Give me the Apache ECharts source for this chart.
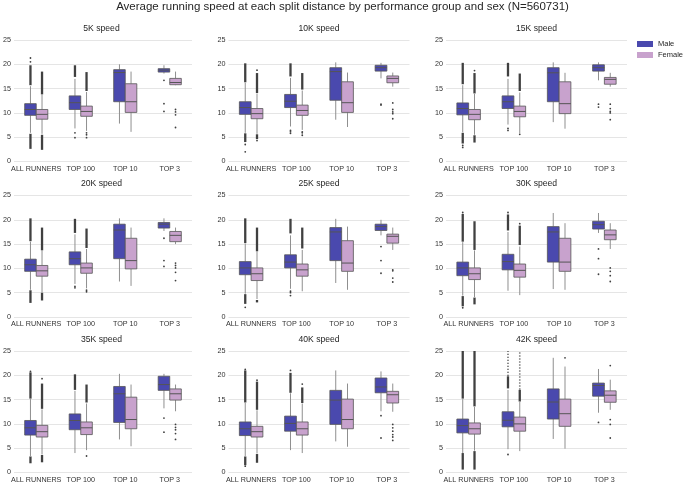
<!DOCTYPE html>
<html><head><meta charset="utf-8">
<script src="https://cdn.jsdelivr.net/npm/echarts@6/dist/echarts.min.js"></script>
<style>html,body{margin:0;padding:0;background:#fff}#c{width:685px;height:484px}</style>
</head><body><div id="c"></div><script>
const mainTitle = 'Average running speed at each split distance by performance group and sex (N=560731)';
const categories = ['ALL RUNNERS', 'TOP 100', 'TOP 10', 'TOP 3'];
const panelTitles = ['5K speed', '10K speed', '15K speed', '20K speed', '25K speed', '30K speed', '35K speed', '40K speed', '42K speed'];
const seriesNames = ['Male', 'Female'];
const yMin = 0, yMax = 25, yStep = 5;

// [lower whisker, Q1, median, Q3, upper whisker] for each category, one block per panel
const maleBoxes = [
  [[5.9,9.5,10.7,11.9,15.5],[6.8,10.7,12.1,13.5,17.0],[7.8,12.3,18.3,18.9,20.0],[18.1,18.4,18.8,19.1,19.8]],
  [[5.9,9.7,11.1,12.3,16.2],[7.2,11.1,12.4,13.8,17.2],[8.6,12.6,18.5,19.3,20.4],[17.1,18.6,19.3,19.8,20.3]],
  [[6.0,9.6,10.9,12.05,15.7],[7.6,10.9,12.3,13.5,17.0],[8.1,12.3,18.25,19.3,20.4],[16.7,18.6,19.3,19.9,20.4]],
  [[5.6,9.4,10.75,11.9,15.5],[6.8,10.75,12.0,13.4,17.0],[7.3,12.0,17.9,19.1,20.3],[17.7,18.3,19.1,19.45,20.3]],
  [[4.8,8.7,10.1,11.4,15.1],[5.8,10.1,11.3,12.8,16.8],[7.0,11.6,17.5,18.4,20.2],[16.8,17.8,18.6,19.1,20.0]],
  [[4.4,8.5,10.1,11.3,15.4],[5.4,9.7,11.4,12.9,17.5],[5.75,11.3,17.5,18.6,21.4],[17.3,18.1,19.0,19.7,21.4]],
  [[3.4,7.7,9.2,10.7,15.1],[4.0,8.8,10.7,12.05,16.8],[6.8,10.3,16.2,17.7,20.3],[13.2,16.9,18.1,19.8,20.3]],
  [[3.4,7.6,9.0,10.4,14.3],[4.6,8.5,10.1,11.6,16.3],[6.4,9.9,14.9,16.9,21.0],[12.6,16.4,17.6,19.45,20.8]],
  [[4.0,8.15,9.65,11.0,15.1],[4.8,9.4,10.75,12.5,17.0],[6.9,11.0,14.5,17.2,23.6],[12.3,15.7,17.9,18.4,21.3]]
];
const femaleBoxes = [
  [[5.7,8.7,9.7,10.7,13.7],[6.3,9.3,10.3,11.4,14.3],[6.1,10.1,12.3,16.0,18.5],[15.7,15.8,16.25,17.1,18.5]],
  [[5.7,8.8,9.85,10.9,14.0],[6.5,9.5,10.5,11.6,14.6],[7.1,10.1,12.1,16.4,18.3],[15.4,16.2,17.1,17.6,18.3]],
  [[5.5,8.6,9.7,10.7,13.9],[5.8,9.2,10.3,11.4,14.2],[6.75,9.85,11.9,16.4,18.25],[15.4,15.9,16.9,17.3,18.25]],
  [[5.1,8.4,9.5,10.6,13.6],[5.9,9.0,10.1,11.1,14.0],[6.4,9.9,11.6,16.2,18.4],[15.0,15.5,16.8,17.6,18.4]],
  [[3.7,7.5,8.9,10.1,13.4],[5.3,8.4,9.7,10.9,13.8],[5.6,9.4,11.1,15.7,18.6],[13.8,15.2,16.6,17.05,18.4]],
  [[4.1,7.7,8.9,10.1,13.7],[4.5,8.2,9.6,10.9,14.5],[5.6,9.4,11.3,16.2,19.3],[14.0,15.9,16.9,17.9,19.3]],
  [[3.7,7.3,8.4,9.7,13.0],[4.6,7.8,9.2,10.4,14.2],[5.4,9.0,10.9,15.5,18.1],[12.6,14.9,16.2,17.2,18.1]],
  [[3.9,7.3,8.4,9.5,12.8],[4.0,7.7,9.0,10.4,14.2],[5.3,9.0,10.9,15.1,18.3],[12.5,14.3,16.0,16.7,18.3]],
  [[4.5,7.9,9.0,10.2,13.5],[4.4,8.5,10.0,11.4,14.5],[4.9,9.5,12.1,15.1,21.8],[12.9,14.45,15.9,16.8,19.1]]
];
// dense runs of outliers: [category index, from, to]
const maleDense = [
  [[0,15.7,19.8],[0,2.6,5.7],[1,17.4,19.8]],
  [[0,16.3,20.2],[0,4.0,5.8],[1,17.5,20.2]],
  [[0,15.9,20.3],[0,3.7,5.9],[1,17.5,20.3]],
  [[0,15.6,20.3],[0,2.9,5.5],[1,17.3,20.2]],
  [[0,15.2,20.3],[0,2.7,4.7],[1,17.2,20.2]],
  [[0,15.5,21.2],[0,2.2,4.3],[1,17.8,21.1]],
  [[0,15.2,20.6],[0,1.9,3.3],[1,17.0,20.2]],
  [[0,14.4,21.0],[0,1.5,3.3],[1,16.4,20.5]],
  [[0,15.2,25],[0,0.6,4.0],[1,17.3,19.8]]
];
const femaleDense = [
  [[0,13.8,18.5],[0,2.4,5.5],[1,14.5,18.4]],
  [[0,14.1,18.2],[0,4.6,5.6],[1,14.8,18.2]],
  [[0,14.0,18.2],[0,3.9,5.4],[1,14.5,18.1]],
  [[0,13.7,18.4],[0,3.4,5.0],[1,14.2,18.2]],
  [[0,13.5,18.4],[0,3.0,3.5],[1,14.1,18.4]],
  [[0,13.8,19.7],[0,2.6,4.0],[1,14.8,18.8]],
  [[0,13.1,18.3],[0,2.1,3.6],[1,14.4,18.1]],
  [[0,12.9,18.7],[0,2.0,3.8],[1,14.3,17.5]],
  [[0,13.6,25],[0,0.6,4.4],[1,14.6,17.0]]
];
// thinner, dotted runs of outliers (42K only)
const maleSparse = [[],[],[],[],[],[],[],[],[[1,19.9,25]]];
const femaleSparse = [[],[],[],[],[],[],[],[],[[1,17.1,25]]];
// single outliers: [category index, value]
const maleOutliers = [
  [[0,20.5],[0,21.3],[1,5.9],[1,4.9],[3,16.7],[3,11.9],[3,10.3]],
  [[0,3.5],[0,2.0],[1,6.4],[1,6.1],[1,5.8],[3,11.8],[3,11.6]],
  [[0,3.3],[0,2.9],[1,6.8],[1,6.4],[3,11.8],[3,11.2]],
  [[1,6.3],[1,6.0],[3,16.2],[3,11.6],[3,10.4]],
  [[0,2.0],[1,5.3],[1,5.0],[1,4.4],[3,14.5],[3,11.6],[3,9.0]],
  [[0,21.5],[0,1.9],[1,21.5],[3,14.0],[3,12.0],[3,8.8]],
  [[0,20.8],[3,11.2],[3,8.3]],
  [[0,21.2],[0,1.3],[1,21.0],[3,11.7],[3,7.1]],
  [[1,3.7],[3,10.3]]
];
const femaleOutliers = [
  [[1,5.9],[1,5.5],[1,4.9],[3,10.7],[3,10.2],[3,9.6],[3,7.0]],
  [[0,18.8],[0,4.3],[1,6.1],[1,5.9],[1,5.4],[3,12.05],[3,10.7],[3,10.2],[3,9.85],[3,8.8]],
  [[0,18.7],[1,5.6],[3,11.8],[3,10.9],[3,10.3],[3,10.0],[3,8.6]],
  [[1,5.5],[1,5.2],[3,11.1],[3,10.6],[3,10.1],[3,9.2],[3,7.5]],
  [[3,9.7],[3,9.5],[3,8.0],[3,7.2]],
  [[1,19.2],[3,10.1],[3,9.4],[3,8.5],[3,7.3]],
  [[0,19.3],[1,3.4],[3,9.9],[3,9.3],[3,8.8],[3,8.0],[3,6.8]],
  [[0,19.0],[1,18.2],[3,9.9],[3,9.2],[3,8.5],[3,7.8],[3,7.3],[3,6.6]],
  [[2,23.6],[3,22.0],[3,10.9],[3,9.9],[3,7.1]]
];

const FONT = 'Liberation Sans, Arial, sans-serif';
const colors = ['#4a49ae', '#c8a2cd'];
const edgeColor = '#555555';
const whiskerColor = '#8f8f8f';
const flierColor = '#404040';
const gridLefts = [11, 228.5, 446];
const gridTops = [40, 195.5, 351];
const gridW = 181, gridH = 121.5;
const BOX_FRAC = 0.26;

function xCenter(api, cat, side) {
  const band = api.size([1, 0])[0];
  const bw = band * BOX_FRAC;
  return { cx: api.coord([cat, 0])[0] + side * bw / 2, bw: bw };
}
function boxRenderer(side, color) {
  return function (params, api) {
    const cat = api.value(0);
    const p = xCenter(api, cat, side);
    const y = [1, 2, 3, 4, 5].map(i => api.coord([cat, api.value(i)])[1]);
    const cx = p.cx, bw = p.bw;
    return { type: 'group', children: [
      { type: 'line', shape: { x1: cx, y1: y[0], x2: cx, y2: y[1] }, style: { stroke: whiskerColor, lineWidth: 1 } },
      { type: 'line', shape: { x1: cx, y1: y[3], x2: cx, y2: y[4] }, style: { stroke: whiskerColor, lineWidth: 1 } },
      { type: 'rect', shape: { x: cx - bw / 2, y: y[3], width: bw, height: y[1] - y[3] }, style: { fill: color, stroke: edgeColor, lineWidth: 0.8 } },
      { type: 'line', shape: { x1: cx - bw / 2, y1: y[2], x2: cx + bw / 2, y2: y[2] }, style: { stroke: edgeColor, lineWidth: 1 } }
    ]};
  };
}
function runRenderer(side, dotted) {
  return function (params, api) {
    const cat = api.value(0);
    const p = xCenter(api, cat, side);
    const y1 = api.coord([cat, api.value(1)])[1];
    const y2 = api.coord([cat, api.value(2)])[1];
    return { type: 'line', shape: { x1: p.cx, y1: y1, x2: p.cx, y2: y2 },
      style: dotted ? { stroke: flierColor, lineWidth: 1.6, lineDash: [1, 2] } : { stroke: flierColor, lineWidth: 2.3 } };
  };
}
function pointRenderer(side) {
  return function (params, api) {
    const cat = api.value(0);
    const p = xCenter(api, cat, side);
    const yy = api.coord([cat, api.value(1)])[1];
    return { type: 'circle', shape: { cx: p.cx, cy: yy, r: 0.9 }, style: { fill: flierColor } };
  };
}

const grids = [], xAxes = [], yAxes = [], series = [];
const titles = [{
  text: mainTitle, left: 'center', top: 1, padding: 0,
  textStyle: { fontFamily: FONT, fontSize: 11.5, fontWeight: 'normal', color: '#262626' }
}];
panelTitles.forEach((t, i) => {
  const r = Math.floor(i / 3), c = i % 3;
  grids.push({ left: gridLefts[c], top: gridTops[r], width: gridW, height: gridH, containLabel: false });
  xAxes.push({
    type: 'category', gridIndex: i, data: categories,
    axisLine: { show: false }, axisTick: { show: false },
    axisLabel: { fontFamily: FONT, fontSize: 7.2, color: '#333', margin: 4, interval: 0 }
  });
  yAxes.push({
    type: 'value', gridIndex: i, min: yMin, max: yMax, interval: yStep,
    axisLine: { show: false }, axisTick: { show: false },
    axisLabel: { fontFamily: FONT, fontSize: 7.2, color: '#333', margin: 3 },
    splitLine: { lineStyle: { color: '#e5e5e5', width: 1 } }
  });
  titles.push({
    text: t, left: gridLefts[c] + gridW / 2, top: gridTops[r] - 16, textAlign: 'center', padding: 0,
    textStyle: { fontFamily: FONT, fontSize: 8.6, fontWeight: 'normal', color: '#262626' }
  });
  const sides = [-1, 1];
  const boxSets = [maleBoxes, femaleBoxes];
  const denseSets = [maleDense, femaleDense];
  const sparseSets = [maleSparse, femaleSparse];
  const outSets = [maleOutliers, femaleOutliers];
  [0, 1].forEach(s => {
    series.push({
      type: 'custom', name: seriesNames[s], xAxisIndex: i, yAxisIndex: i,
      itemStyle: { color: colors[s] },
      renderItem: boxRenderer(sides[s], colors[s]),
      encode: { x: 0, y: [1, 2, 3, 4, 5] },
      data: boxSets[s][i].map((b, k) => [k].concat(b)), z: 2, silent: true
    });
    series.push({
      type: 'custom', name: seriesNames[s] + ' runs', xAxisIndex: i, yAxisIndex: i,
      renderItem: runRenderer(sides[s], false), encode: { x: 0, y: [1, 2] },
      data: denseSets[s][i], z: 3, silent: true
    });
    series.push({
      type: 'custom', name: seriesNames[s] + ' sparse', xAxisIndex: i, yAxisIndex: i,
      renderItem: runRenderer(sides[s], true), encode: { x: 0, y: [1, 2] },
      data: sparseSets[s][i], z: 3, silent: true
    });
    series.push({
      type: 'custom', name: seriesNames[s] + ' outliers', xAxisIndex: i, yAxisIndex: i,
      renderItem: pointRenderer(sides[s]), encode: { x: 0, y: 1 },
      data: outSets[s][i], z: 4, silent: true
    });
  });
});

const chart = echarts.init(document.getElementById('c'), null, { renderer: 'canvas' });
chart.setOption({
  animation: false,
  backgroundColor: '#ffffff',
  title: titles,
  legend: {
    orient: 'vertical', left: 637, top: 40, padding: 0, itemWidth: 16, itemHeight: 6, itemGap: 3,
    textStyle: { fontFamily: FONT, fontSize: 7.5, color: '#262626' },
    data: seriesNames.map((n, k) => ({ name: n, icon: 'rect', itemStyle: { color: colors[k], borderWidth: 0 } })),
    selectedMode: false
  },
  grid: grids, xAxis: xAxes, yAxis: yAxes, series: series
});
</script></body></html>
